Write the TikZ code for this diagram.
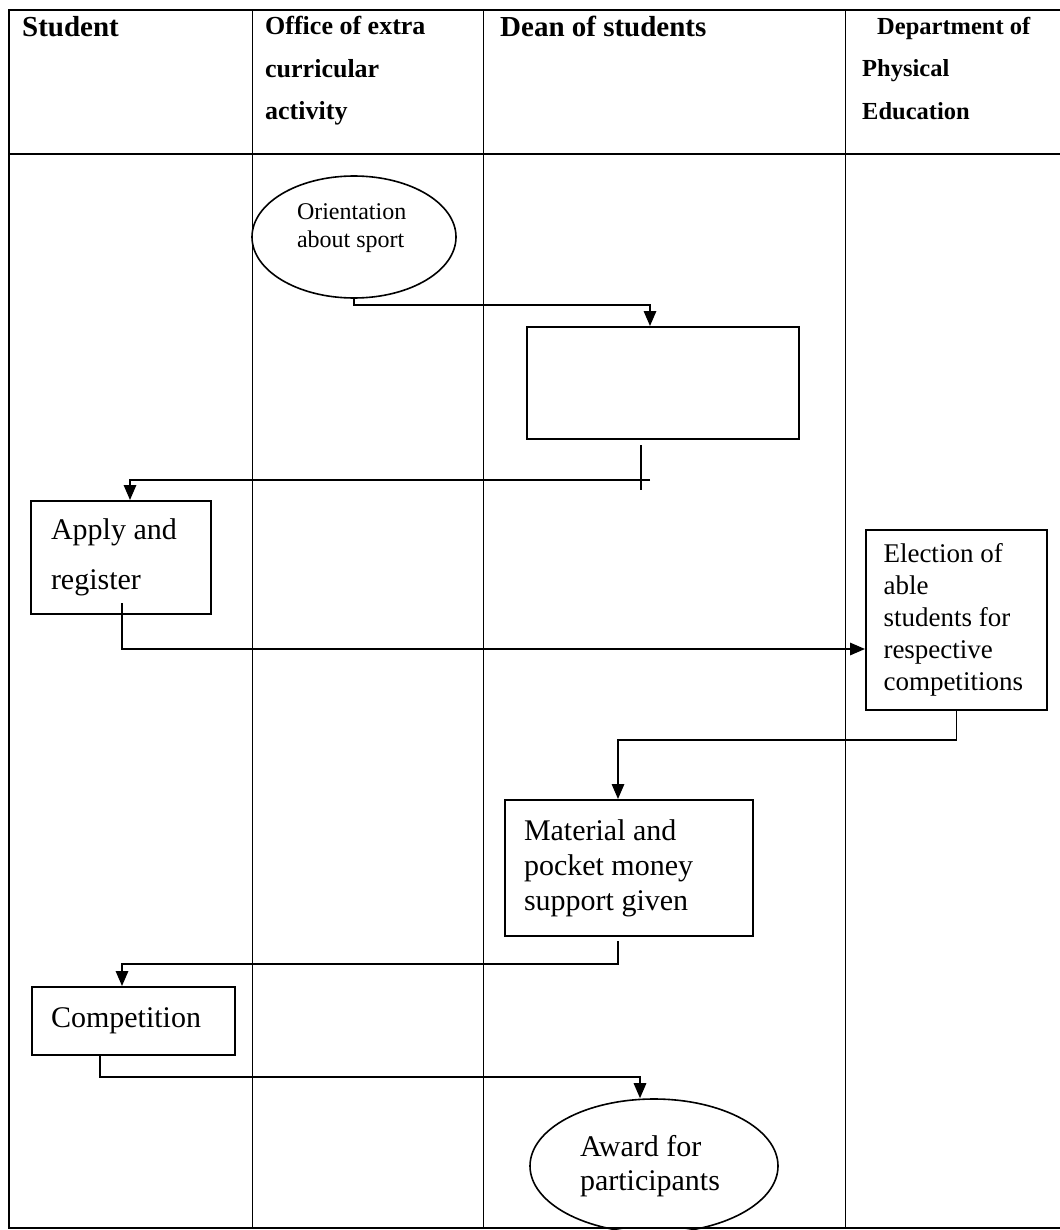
\documentclass[tikz,border=0pt]{standalone}
\usepackage{fontspec}
\setmainfont{Liberation Serif}
\usetikzlibrary{arrows.meta,shapes.geometric}

\begin{document}
\begin{tikzpicture}[x=1pt,y=-1pt,
	flow/.style={line width=1.6pt,-{Triangle[length=15pt,width=12.5pt]}},
	link/.style={line width=1.6pt},
	stepbox/.style={draw,line width=2pt,inner sep=0pt,align=flush left},
	oval/.style={draw,ellipse,line width=1.6pt,inner sep=0pt,align=flush left},
	head/.style={inner sep=0pt,align=flush left}]
	\useasboundingbox (0,0) rectangle (1059,1230);

	% lanes
	\draw[line width=1pt] (252,10) -- (252,1228);
	\draw[line width=1pt] (483,10) -- (483,1228);
	\draw[line width=1pt] (845,10) -- (845,1228);
	\draw[line width=1.4pt] (9,154) -- (1062,154);
	\draw[line width=1.8pt] (9,10) rectangle (1062,1228);

	\node[head,anchor=base west,font=\bfseries\fontsize{29}{35}\selectfont] (hStudent) at (22,37) {Student};
	\node[head,anchor=north west,font=\bfseries\fontsize{26}{42.5}\selectfont] (hOffice) at (265,16) {Office of extra\\curricular\\activity};
	\node[head,anchor=base west,font=\bfseries\fontsize{29}{35}\selectfont] (hDean) at (500,37) {Dean of students};
	\node[head,anchor=north west,font=\bfseries\fontsize{24.5}{42.5}\selectfont] (hDept) at (862,17) {\hspace*{15pt}Department of\\Physical\\Education};

	% steps
	\node[oval,minimum width=204pt,minimum height=122pt,text width=114pt,text depth=50pt,font=\fontsize{24}{28}\selectfont] (orient) at (354,237) {Orientation\\about sport};
	\node[stepbox,minimum width=272pt,minimum height=112pt] (blank) at (663,383) {};
	\node[stepbox,minimum width=180pt,minimum height=113pt,text width=140pt,font=\fontsize{30}{50}\selectfont] (apply) at (121,557.5) {Apply and\\register};
	\node[stepbox,minimum width=181pt,minimum height=180pt,text width=146pt,font=\fontsize{27}{32}\selectfont] (elect) at (956.5,620) {Election of\\able\\students for\\respective\\competitions};
	\node[stepbox,minimum width=248pt,minimum height=136pt,text width=210pt,font=\fontsize{30}{35}\selectfont] (mat) at (629,868) {Material and\\pocket money\\support given};
	\node[stepbox,minimum width=203pt,minimum height=68pt,text width=165pt,font=\fontsize{30}{35}\selectfont] (comp) at (133.5,1021) {Competition};
	\node[oval,minimum width=248pt,minimum height=134pt,text width=148pt,font=\fontsize{30}{34}\selectfont] (award) at (654,1166) {Award for\\participants};

	% flows
	\coordinate (o1) at (650,305);
	\draw[flow] (orient.south) |- (o1) -- (o1 |- blank.north);

	\coordinate (t1) at (641,445);
	\coordinate (t2) at (641,490);
	\coordinate (t3) at (650,480);
	\coordinate (t4) at (130,480);
	\draw[link] (t1) -- (t2);
	\draw[flow] (t3) -- (t4) -- (t4 |- apply.north);

	\coordinate (a1) at (122,603);
	\coordinate (a2) at (122,649);
	\draw[flow] (a1) -- (a2) -- (a2 -| elect.west);

	\coordinate (e1) at (618,740);
	\draw[flow] (elect.south) |- (e1) -- (e1 |- mat.north);

	\coordinate (m1) at (618,941);
	\coordinate (m2) at (122,964);
	\draw[flow] (m1) |- (m2) -- (m2 |- comp.north);

	\coordinate (c1) at (100,1077);
	\coordinate (c2) at (640,1077);
	\draw[flow] (c1 |- comp.south) -- (c1) -- (c2) -- (c2 |- award.north);
\end{tikzpicture}
\end{document}
